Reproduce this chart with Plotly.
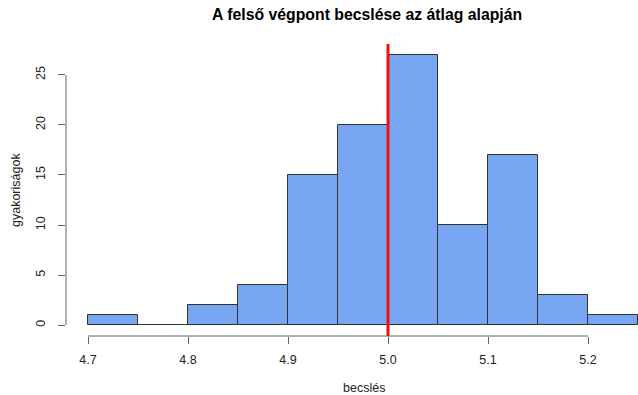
import plotly.graph_objects as go

# Data
bin_edges = [4.70, 4.75, 4.80, 4.85, 4.90, 4.95, 5.00, 5.05, 5.10, 5.15, 5.20, 5.25]
counts = [1, 0, 2, 4, 15, 20, 27, 10, 17, 3, 1]
true_value = 5.0
x_ticks = [4.7, 4.8, 4.9, 5.0, 5.1, 5.2]
x_tick_labels = ["4.7", "4.8", "4.9", "5.0", "5.1", "5.2"]
y_ticks = [0, 5, 10, 15, 20, 25]
y_tick_labels = ["0", "5", "10", "15", "20", "25"]

title = "A felső végpont becslése az átlag alapján"
x_title = "becslés"
y_title = "gyakoriságok"

centers = [(a + b) / 2 for a, b in zip(bin_edges[:-1], bin_edges[1:])]
widths = [b - a for a, b in zip(bin_edges[:-1], bin_edges[1:])]

W, H = 638, 395
ML, MR, MT, MB = 66, 0, 44, 59
font_family = "Liberation Sans, Arial, sans-serif"
axis_col = "#666666"

fig = go.Figure()
fig.add_trace(go.Bar(
    x=centers, y=counts, width=widths,
    marker=dict(color="#79A6F2", line=dict(color="#333333", width=1)),
    hoverinfo="x+y",
))

# R-style axis lines spanning only tick range
fig.add_shape(type="line", xref="x", yref="paper",
              x0=x_ticks[0], x1=x_ticks[-1], y0=0, y1=0,
              line=dict(color=axis_col, width=1))
fig.add_shape(type="line", xref="paper", yref="y",
              x0=0, x1=0, y0=y_ticks[0], y1=y_ticks[-1],
              line=dict(color=axis_col, width=1))

# true value line
fig.add_shape(type="line", xref="x", yref="paper",
              x0=true_value, x1=true_value, y0=0, y1=1,
              line=dict(color="#EE1111", width=3), layer="above")

pw = W - ML - MR
ph = H - MT - MB

def px_to_paper_x(px):
    return (px - ML) / pw

def px_to_paper_y(py):
    return (H - MB - py) / ph

fig.add_annotation(text="<b>" + title + "</b>", xref="paper", yref="paper",
                   x=px_to_paper_x(367), y=px_to_paper_y(15), showarrow=False,
                   xanchor="center", yanchor="middle",
                   font=dict(family=font_family, size=15.8, color="#000000"))
fig.add_annotation(text=x_title, xref="paper", yref="paper",
                   x=px_to_paper_x(364), y=px_to_paper_y(388), showarrow=False,
                   xanchor="center", yanchor="middle",
                   font=dict(family=font_family, size=12.5, color="#222222"))
fig.add_annotation(text=y_title, xref="paper", yref="paper",
                   x=px_to_paper_x(16), y=px_to_paper_y(190), showarrow=False,
                   xanchor="center", yanchor="middle", textangle=-90,
                   font=dict(family=font_family, size=12.5, color="#222222"))

fig.update_layout(
    width=W, height=H,
    margin=dict(l=ML, r=MR, t=MT, b=MB, pad=0, autoexpand=False),
    paper_bgcolor="white", plot_bgcolor="white",
    showlegend=False, bargap=0,
    font=dict(family=font_family, size=12, color="#222222"),
)
fig.update_xaxes(range=[4.678, 5.25], tickvals=x_ticks, ticktext=x_tick_labels,
                 ticks="outside", ticklen=7, tickcolor=axis_col, tickwidth=1,
                 showgrid=False, zeroline=False, showline=False, automargin=False,
                 ticklabelstandoff=5, tickfont=dict(size=12.5))
fig.update_yaxes(range=[-1.08, 28.08], tickvals=y_ticks, ticktext=y_tick_labels,
                 ticks="outside", ticklen=7, tickcolor=axis_col, tickwidth=1,
                 showgrid=False, zeroline=False, showline=False, tickangle=-90,
                 automargin=False,
                 ticklabelstandoff=8, tickfont=dict(size=12.5))

fig.write_html("out.html", config={"displayModeBar": False},
               post_script="document.body.style.margin='0';document.body.style.overflow='hidden';")
